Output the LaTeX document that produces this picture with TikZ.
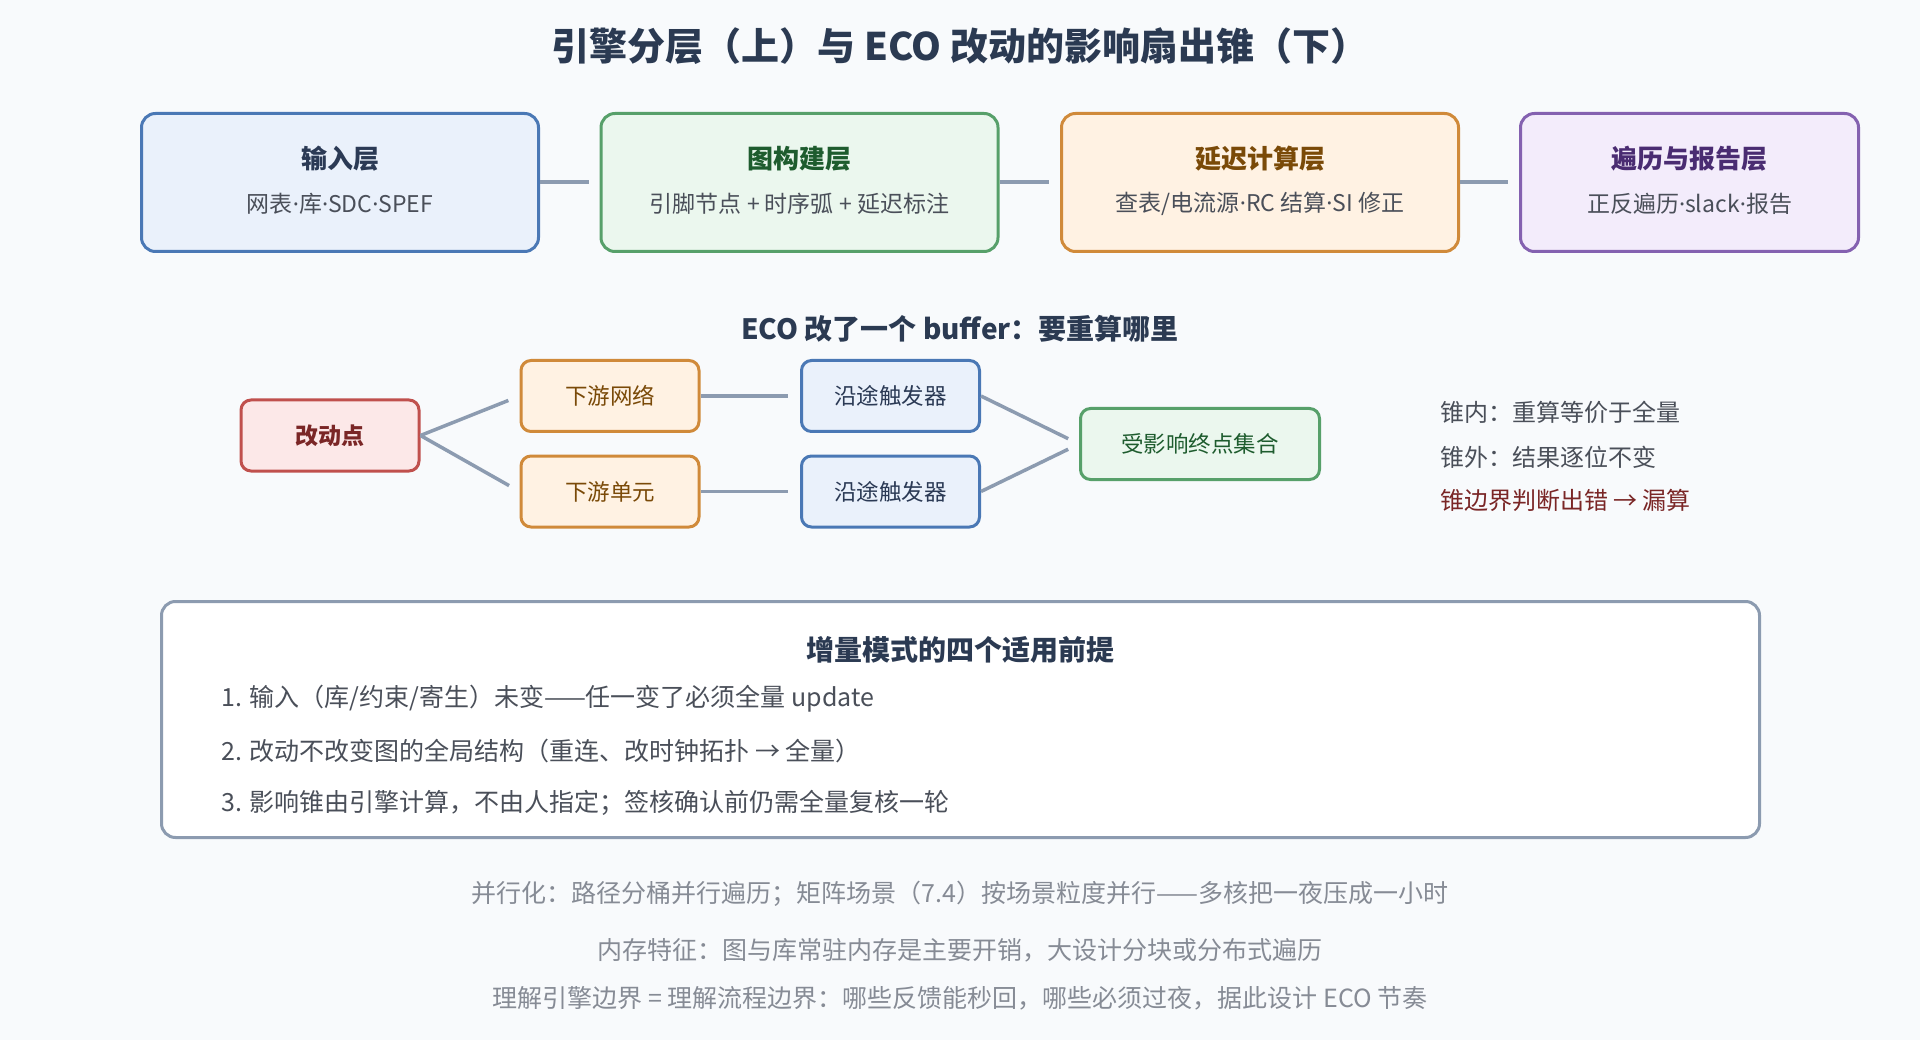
\documentclass[tikz,border=0pt]{standalone}
\usepackage{fontspec}
\setmainfont{Noto Sans CJK SC}
\newfontfamily\latinfont{Noto Sans}
\newcommand{\mdot}{{\latinfont ·}}
\usepackage{tikz}
\usetikzlibrary{positioning,calc}
\definecolor{EcoBlue}    {HTML}{4A78B5}
\definecolor{EcoBlueLt}  {HTML}{EAF1FB}
\definecolor{EcoBlueDk}  {HTML}{2B3A55}
\definecolor{EcoGreen}   {HTML}{57A06A}
\definecolor{EcoGreenLt} {HTML}{EBF7EE}
\definecolor{EcoGreenDk} {HTML}{1E5C2E}
\definecolor{EcoOrange}  {HTML}{D08A3A}
\definecolor{EcoOrangeLt}{HTML}{FFF2E3}
\definecolor{EcoOrangeDk}{HTML}{7A4A08}
\definecolor{EcoPurple}  {HTML}{8461B0}
\definecolor{EcoPurpleLt}{HTML}{F3ECFB}
\definecolor{EcoPurpleDk}{HTML}{4A2C72}
\definecolor{EcoRed}     {HTML}{C0504D}
\definecolor{EcoRedLt}   {HTML}{FCE8E8}
\definecolor{EcoRedDk}   {HTML}{7A2626}
\definecolor{EcoSlate}   {HTML}{2B3A52}
\definecolor{EcoGray}    {HTML}{8C9BB0}
\definecolor{EcoText}    {HTML}{4A4F59}
\definecolor{EcoMute}    {HTML}{868B95}
\definecolor{EcoBg}      {HTML}{F8FAFC}

\begin{document}
\begin{tikzpicture}[x=1pt,y=-1pt,
    layer/.style={draw=#1,fill=#1Lt,line width=3pt,rounded corners=14pt,
                  minimum width=397pt,minimum height=138pt},
    ttl/.style={font=\fontsize{26}{30}\selectfont\bfseries,text=#1Dk},
    sub/.style={font=\fontsize{23}{26}\selectfont,text=EcoText},
    cone/.style={draw=#1,fill=#1Lt,line width=3pt,rounded corners=10pt,
                 minimum width=178pt,minimum height=71pt,
                 font=\fontsize{22.5}{26}\selectfont,text=#1Dk},
    link/.style={EcoGray,line width=4pt,shorten >=11pt},
    fan/.style={EcoGray,line width=3.5pt,shorten >=12pt},
    head/.style={font=\fontsize{28}{32}\selectfont\bfseries,text=EcoSlate},
    body/.style={font=\fontsize{24}{28}\selectfont,text=EcoText,anchor=west,inner sep=0pt},
    item/.style={body,font=\fontsize{25}{28}\selectfont},
    note/.style={font=\fontsize{25}{28}\selectfont,text=EcoMute}
  ]
    \fill[EcoBg] (0,0) rectangle (1920,1040);
    \node[font=\fontsize{38}{42}\selectfont\bfseries,text=EcoSlate] (title) at (960,46)
      {引擎分层（上）与 ECO 改动的影响扇出锥（下）};

    % engine layers
    \node[layer=EcoBlue]   (inp) at (340,182.5) {};
    \node[layer=EcoGreen]  (grf) at (799.5,182.5) {};
    \node[layer=EcoOrange] (dly) at (1260,182.5) {};
    \node[layer=EcoPurple,minimum width=338pt] (trv) at (1689.5,182.5) {};
    \node[ttl=EcoBlue]   at (340,159) {输入层};
    \node[sub]           at (340,204) {网表\mdot 库\mdot SDC\mdot SPEF};
    \node[ttl=EcoGreen]  at (799.5,159) {图构建层};
    \node[sub]           at (799.5,204) {引脚节点 + 时序弧 + 延迟标注};
    \node[ttl=EcoOrange] at (1260,159) {延迟计算层};
    \node[sub]           at (1260,204) {查表/电流源\mdot RC 结算\mdot SI 修正};
    \node[ttl=EcoPurple] at (1689.5,159) {遍历与报告层};
    \node[sub]           at (1689.5,204) {正反遍历\mdot slack\mdot 报告};
    \foreach \a/\b in {inp/grf,grf/dly,dly/trv}
      \draw[link] (\a.east) -- (\b.west);

    % fan-out cone
    \node[head] (conehd) at (960,329) {ECO 改了一个 buffer：要重算哪里};
    \node[cone=EcoRed,font=\fontsize{23}{26}\selectfont\bfseries] (chg) at (330,435.5) {改动点};
    \node[cone=EcoOrange] (dnet)  at (610,396)   {下游网络};
    \node[cone=EcoOrange] (dcell) at (610,491.5) {下游单元};
    \node[cone=EcoBlue]   (ff1)   at (890.5,396)   {沿途触发器};
    \node[cone=EcoBlue]   (ff2)   at (890.5,491.5) {沿途触发器};
    \node[cone=EcoGreen,minimum width=239pt] (ends) at (1200,444) {受影响终点集合};
    \foreach \a/\b in {chg/dnet,chg/dcell,dnet/ff1,dcell/ff2,ff1/ends,ff2/ends}
      \draw[fan] (\a.east) -- (\b.west);
    \node[body] (cin)  at (1440,412) {锥内：重算等价于全量};
    \node[body] (cout) at (1440,457) {锥外：结果逐位不变};
    \node[body,text=EcoRedDk] (cerr) at (1440,500) {锥边界判断出错 → 漏算};

    % preconditions
    \node[draw=EcoGray,fill=white,line width=3pt,rounded corners=14pt,
          minimum width=1598pt,minimum height=236pt] (pre) at (960.5,719.5) {};
    \node[head] (prehd) at (960,650) {增量模式的四个适用前提};
    \node[item] (p1) at (221,699) {1. 输入（库/约束/寄生）未变——任一变了必须全量 update};
    \node[item] (p2) at (221,751) {2. 改动不改变图的全局结构（重连、改时钟拓扑 → 全量）};
    \node[item] (p3) at (221,803) {3. 影响锥由引擎计算，不由人指定；签核确认前仍需全量复核一轮};

    \node[note] (n1) at (960,894) {并行化：路径分桶并行遍历；矩阵场景（7.4）按场景粒度并行——多核把一夜压成一小时};
    \node[note] (n2) at (960,950) {内存特征：图与库常驻内存是主要开销，大设计分块或分布式遍历};
    \node[note] (n3) at (960,998) {理解引擎边界 = 理解流程边界：哪些反馈能秒回，哪些必须过夜，据此设计 ECO 节奏};
  \end{tikzpicture}
\end{document}
